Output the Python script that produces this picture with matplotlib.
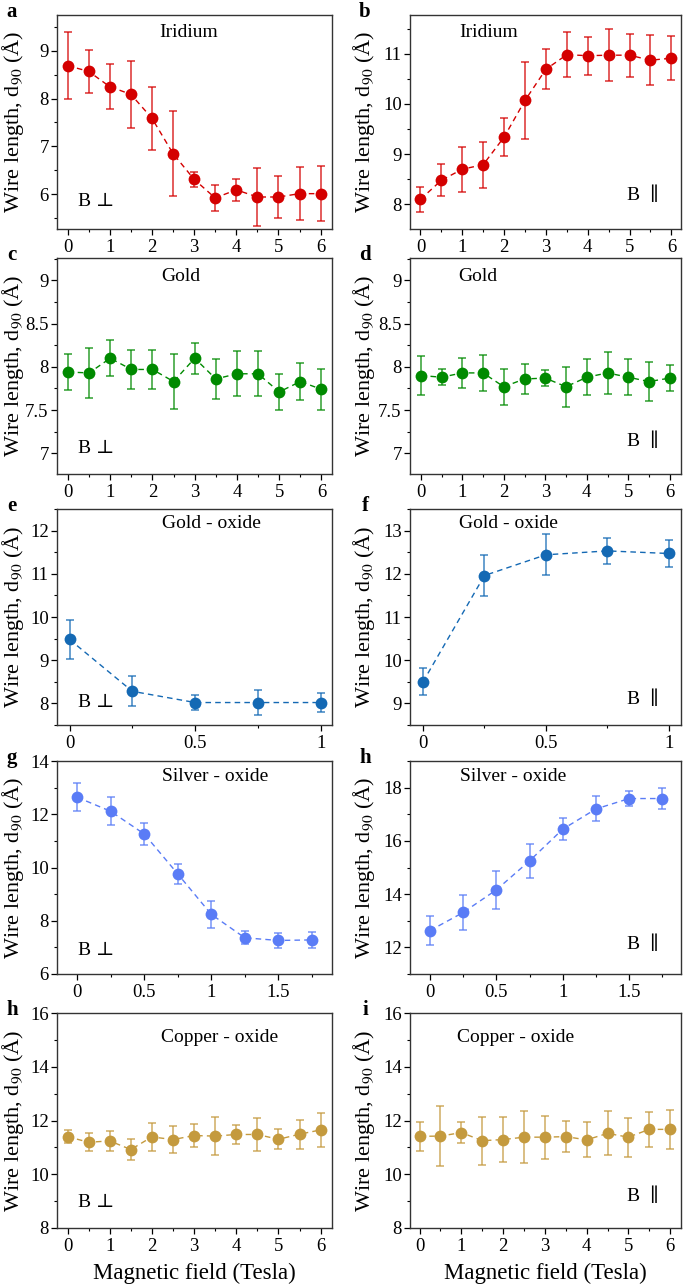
import numpy as np
import matplotlib
matplotlib.use("Agg")
import matplotlib.pyplot as plt
from matplotlib.ticker import MultipleLocator, FormatStrFormatter

plt.rcParams['font.family'] = ['Liberation Serif', 'DejaVu Serif']
plt.rcParams['mathtext.fontset'] = 'stix'

# --- data ---
fldFul = [0, 0.5, 1, 1.5, 2, 2.5, 3, 3.5, 4, 4.5, 5, 5.5, 6]
fldOxi = [0, 0.25, 0.5, 0.75, 1]
fldSil = [0, 0.25, 0.5, 0.75, 1, 1.25, 1.5, 1.75]

irPer = [8.69, 8.57, 8.25, 8.09, 7.59, 6.85, 6.31, 5.92, 6.09, 5.94, 5.94, 6.01, 6.01]
irPerErr = [0.70, 0.45, 0.47, 0.70, 0.66, 0.88, 0.16, 0.27, 0.23, 0.61, 0.44, 0.56, 0.57]
irPar = [8.10, 8.48, 8.70, 8.79, 9.34, 10.07, 10.69, 10.98, 10.96, 10.97, 10.97, 10.87, 10.91]
irParErr = [0.25, 0.32, 0.45, 0.46, 0.37, 0.76, 0.40, 0.45, 0.38, 0.52, 0.43, 0.50, 0.44]

auPer = [7.94, 7.93, 8.10, 7.97, 7.97, 7.83, 8.10, 7.86, 7.92, 7.92, 7.71, 7.83, 7.74]
auPerErr = [0.21, 0.29, 0.21, 0.23, 0.23, 0.32, 0.18, 0.23, 0.26, 0.26, 0.21, 0.21, 0.24]
auPar = [7.90, 7.88, 7.93, 7.93, 7.77, 7.86, 7.87, 7.77, 7.88, 7.93, 7.88, 7.83, 7.87]
auParErr = [0.22, 0.09, 0.17, 0.21, 0.21, 0.17, 0.09, 0.23, 0.21, 0.24, 0.21, 0.23, 0.15]

auoPer = [9.48, 8.28, 8.02, 8.02, 8.02]
auoPerErr = [0.45, 0.35, 0.17, 0.30, 0.21]
auoPar = [9.50, 11.96, 12.44, 12.53, 12.47]
auoParErr = [0.31, 0.48, 0.47, 0.30, 0.31]

agoPer = [12.64, 12.11, 11.26, 9.76, 8.24, 7.36, 7.26, 7.28]
agoPerErr = [0.53, 0.52, 0.42, 0.39, 0.52, 0.24, 0.27, 0.30]
agoPar = [12.63, 13.31, 14.16, 15.25, 16.44, 17.20, 17.59, 17.59]
agoParErr = [0.53, 0.66, 0.72, 0.65, 0.42, 0.47, 0.28, 0.40]

cuoPer = [11.40, 11.19, 11.24, 10.92, 11.39, 11.29, 11.44, 11.42, 11.48, 11.48, 11.30, 11.49, 11.65]
cuoPerErr = [0.23, 0.34, 0.37, 0.38, 0.51, 0.50, 0.44, 0.70, 0.37, 0.63, 0.37, 0.54, 0.64]
cuoPar = [11.41, 11.42, 11.55, 11.25, 11.29, 11.38, 11.38, 11.40, 11.28, 11.52, 11.38, 11.67, 11.67]
cuoParErr = [0.53, 1.13, 0.39, 0.89, 0.83, 0.96, 0.80, 0.59, 0.65, 0.82, 0.72, 0.66, 0.72]

colIr = '#d40000'
colAu = '#008a00'
colAuo = '#1469b4'
colAgo = '#5a7cf6'
colCuo = '#c49a3e'

fig = plt.figure(figsize=(6.85, 12.85), dpi=100)
W, H = 685.0, 1285.0

def mkAx(x0, x1, yTop, yBot):
    return fig.add_axes([x0 / W, 1 - yBot / H, (x1 - x0) / W, (yBot - yTop) / H])

cols = [(57, 332), (410, 681)]
rows = [(15, 229), (258, 474), (509, 725), (761, 974), (1013, 1228)]

# (x, y, err, color, title, titX, titY, field, fieldY, xlim, ylim, yMaj, yMin, xMaj, xMin, letter)
pans = [
    (fldFul, irPer, irPerErr, colIr, 'Iridium', 0.48, 0.92, 'B \u22a5', 0.13, (-0.25, 6.27), (5.27, 9.75), 1, 0.5, 1, 0.5, 'a'),
    (fldFul, irPar, irParErr, colIr, 'Iridium', 0.29, 0.92, 'B  \u2225', 0.16, (-0.25, 6.23), (7.51, 11.77), 1, 0.5, 1, 0.5, 'b'),
    (fldFul, auPer, auPerErr, colAu, 'Gold', 0.45, 0.915, 'B \u22a5', 0.12, (-0.26, 6.25), (6.76, 9.26), 0.5, 0.25, 1, 0.5, 'c'),
    (fldFul, auPar, auParErr, colAu, 'Gold', 0.25, 0.915, 'B  \u2225', 0.15, (-0.26, 6.27), (6.76, 9.26), 0.5, 0.25, 1, 0.5, 'd'),
    (fldOxi, auoPer, auoPerErr, colAuo, 'Gold - oxide', 0.56, 0.935, 'B \u22a5', 0.105, (-0.05, 1.045), (7.5, 12.5), 1, 0.5, 0.5, 0.25, 'e'),
    (fldOxi, auoPar, auoParErr, colAuo, 'Gold - oxide', 0.365, 0.935, 'B  \u2225', 0.12, (-0.053, 1.05), (8.5, 13.5), 1, 0.5, 0.5, 0.25, 'f'),
    (fldSil, agoPer, agoPerErr, colAgo, 'Silver - oxide', 0.575, 0.926, 'B \u22a5', 0.11, (-0.15, 1.9), (6, 14), 2, 1, 0.5, 0.25, 'g'),
    (fldSil, agoPar, agoParErr, colAgo, 'Silver - oxide', 0.38, 0.926, 'B  \u2225', 0.14, (-0.15, 1.89), (11, 19), 2, 1, 0.5, 0.25, 'h'),
    (fldFul, cuoPer, cuoPerErr, colCuo, 'Copper - oxide', 0.59, 0.885, 'B \u22a5', 0.12, (-0.25, 6.27), (8, 16), 2, 1, 1, 0.5, 'h'),
    (fldFul, cuoPar, cuoParErr, colCuo, 'Copper - oxide', 0.39, 0.885, 'B  \u2225', 0.15, (-0.23, 6.26), (8, 16), 2, 1, 1, 0.5, 'i'),
]

for k, p in enumerate(pans):
    (xs, ys, es, col, tit, tx, ty, fld, fy, xl, yl, yMaj, yMin, xMaj, xMin, let) = p
    r, c = divmod(k, 2)
    yTop, yBot = rows[r]
    x0, x1 = cols[c]
    ax = mkAx(x0, x1, yTop, yBot)

    ax.errorbar(xs, ys, yerr=es, fmt='none', ecolor=col, alpha=0.75,
                elinewidth=1.2, capsize=3.2, capthick=1.2, zorder=2)
    ax.plot(xs, ys, ls=(0, (4, 3)), color=col, lw=1.0, marker='o',
            markersize=8.5, markeredgewidth=0, zorder=3)

    ax.set_xlim(*xl)
    ax.set_ylim(*yl)
    ax.yaxis.set_major_locator(MultipleLocator(yMaj))
    ax.yaxis.set_minor_locator(MultipleLocator(yMin))
    ax.xaxis.set_major_locator(MultipleLocator(xMaj))
    ax.xaxis.set_minor_locator(MultipleLocator(xMin))
    ax.xaxis.set_major_formatter(FormatStrFormatter('%g'))
    ax.yaxis.set_major_formatter(FormatStrFormatter('%g'))
    ax.tick_params(which='major', length=4, width=0.9, labelsize=13.5, direction='out')
    ax.tick_params(axis='y', which='major', pad=2)
    ax.tick_params(which='minor', length=2.3, width=0.8, direction='out')
    for sp in ax.spines.values():
        sp.set_linewidth(1.0)
        sp.set_color('#333333')

    ax.set_ylabel('Wire length, d$_{90}$ (\u00c5)', fontsize=16)
    lblX = (26 - x0) / (x1 - x0) if c == 0 else (377 - x0) / (x1 - x0)
    ax.yaxis.set_label_coords(lblX, 0.5)

    ax.text(tx, ty, tit, transform=ax.transAxes, ha='center', va='center', fontsize=14)
    ax.text(0.075 if c == 0 else 0.80, fy, fld, transform=ax.transAxes,
            ha='left', va='center', fontsize=14)

    lx = 12 if c == 0 else 365
    fig.text(lx / W, 1 - (yTop - 3) / H, let, ha='center', va='center',
             fontsize=15, fontweight='bold')

    if r == 4:
        ax.set_xlabel('Magnetic field (Tesla)', fontsize=16.5, labelpad=5)

fig.savefig('out.png', dpi=100)
